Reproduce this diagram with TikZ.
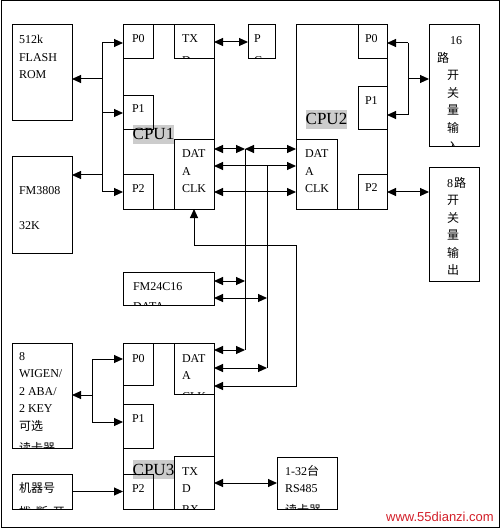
\documentclass[tikz,border=0pt]{standalone}
\usepackage{fontspec}
\setmainfont{Liberation Serif}
\newfontfamily\cjk{Noto Sans CJK SC}
\newfontfamily\wmfont{Liberation Sans}
\usetikzlibrary{arrows.meta}
\definecolor{wmred}{RGB}{210,30,40}
\newcommand\mkbox[5]{\node[box, minimum width=#4pt, minimum height=#5pt] (#1) at (#2,#3) {};}
\newcommand\mktext[5]{\begin{scope}\clip (#2.south west) rectangle (#2.north east);
  \node[txt] (#1) at (#3,#4-12) {\rule{0pt}{12pt}#5};\end{scope}}
\begin{document}
\begin{tikzpicture}[x=1pt,y=-1pt,
  box/.style={draw, line width=1pt, inner sep=0pt, outer sep=0pt, anchor=north west},
  txt/.style={anchor=north west, inner sep=0pt, outer sep=0pt, align=left, font=\fontsize{12}{17.5}\selectfont},
  lbl/.style={fill=black!20, inner sep=0pt, text height=15pt, text depth=4pt, anchor=base west, font=\fontsize{17}{17}\selectfont},
  wire/.style={line width=1pt},
  arr/.style={line width=1pt, -{Triangle[length=9pt,width=8pt]}},
  darr/.style={line width=1pt, {Triangle[length=9pt,width=8pt]}-{Triangle[length=9pt,width=8pt]}}]
\useasboundingbox (0,0) rectangle (501,529);
\node[box, minimum width=498pt, minimum height=526pt] (frame) at (1,1) {};

% ---- CPU1 ----
\mkbox{flash}{12}{25}{60}{96}
\mkbox{fmA}{12}{157}{60}{96}
\mkbox{cpu1}{123}{25}{91}{184}
\node[lbl] (lab1) at (132.5,140) {CPU1};
\mkbox{p0a}{123}{25}{30}{34}
\mkbox{tx1}{174}{25}{40}{34}
\mkbox{p1a}{123}{96}{30}{34}
\mkbox{d1}{174}{140}{40}{69}
\mkbox{p2a}{123}{175}{30}{34}
\mkbox{pc}{248}{25}{27}{34}

% ---- CPU2 ----
\mkbox{cpu2}{296}{25}{91}{184}
\node[lbl] (lab2) at (305.5,125) {CPU2};
\mkbox{p0b}{358}{25}{29}{34}
\mkbox{p1b}{358}{87}{29}{43}
\mkbox{d2}{296}{140}{41}{69}
\mkbox{p2b}{358}{175}{29}{34}
\mkbox{bsix}{429}{25}{50}{122}
\mkbox{beight}{429}{168}{50}{113}

% ---- FM24C16 ----
\mkbox{fmB}{123}{272}{91}{33}

% ---- CPU3 ----
\mkbox{cpu3}{123}{343}{91}{166}
\node[lbl] (lab3) at (132.5,475) {CPU3};
\mkbox{p0c}{123}{343}{30}{42}
\mkbox{d3}{174}{343}{40}{51}
\mkbox{p1c}{123}{404}{30}{44}
\node[box, fill=white, minimum width=40pt, minimum height=53pt] (tx3) at (174,456) {};
\mkbox{p2c}{123}{474}{30}{35}
\mkbox{wig}{12}{343}{60}{105}
\mkbox{jq}{12}{474}{60}{35}
\mkbox{rs}{277}{457}{60}{52}

% ---- texts ----
\mktext{tflash}{flash}{19}{44}{512k\\FLASH\\ROM}
\mktext{tfmA}{fmA}{19}{194}{FM3808\\[17.5pt]32K}
\mktext{tp0a}{p0a}{132}{43}{P0}
\mktext{ttx1}{tx1}{182}{43}{TX\\[4pt]D}
\mktext{tp1a}{p1a}{132}{113}{P1}
\mktext{td1}{d1}{182}{158}{DAT\\A\\CLK}
\mktext{tp2a}{p2a}{132}{193}{P2}
\mktext{tpc}{pc}{254}{43}{P\\[4pt]C}
\mktext{tp0b}{p0b}{365}{43}{P0}
\mktext{tp1b}{p1b}{365}{105}{P1}
\mktext{td2}{d2}{305}{158}{DAT\\A\\CLK}
\mktext{tp2b}{p2b}{365}{192}{P2}
\mktext{tsix}{bsix}{437}{45}{\hspace*{13pt}16\\{\cjk 路}\\\hspace*{10pt}{\cjk 开}\\\hspace*{10pt}{\cjk 关}\\\hspace*{10pt}{\cjk 量}\\\hspace*{10pt}{\cjk 输}\\[2pt]\hspace*{10pt}{\cjk 入}}
\mktext{teight}{beight}{447}{187}{8\hspace{1pt}{\cjk 路}\\{\cjk 开}\\{\cjk 关}\\{\cjk 量}\\{\cjk 输}\\{\cjk 出}}
\mktext{tfmB}{fmB}{133}{290}{FM24C16\\[3pt]DATA}
\mktext{tp0c}{p0c}{132}{362}{P0}
\mktext{td3}{d3}{182}{362}{DAT\\A\\[3pt]CLK}
\mktext{tp1c}{p1c}{132}{422}{P1}
\mktext{ttx3}{tx3}{182}{475}{TX\\D\\[3pt]RX}
\mktext{tp2c}{p2c}{132}{492}{P2}
\mktext{twig}{wig}{19}{360}{8\\WIGEN/\\2 ABA/\\2 KEY\\{\cjk 可选}\\[5pt]{\cjk 读卡器}}
\mktext{tjq}{jq}{19}{492}{{\cjk 机器号}\\[7pt]{\cjk 拨\hspace{5pt}断\hspace{5pt}开}}
\mktext{trs}{rs}{285}{475}{1-32{\cjk 台}\\RS485\\[4pt]{\cjk 读卡器}}

\node[anchor=base east, inner sep=0pt, text=wmred, font=\wmfont\fontsize{13}{13}\selectfont] (wm) at (494,521) {www.55dianzi.com};

% ---- CPU1 left bus ----
\coordinate (bt) at (102,43);
\coordinate (bp) at (102,113);
\coordinate (bb) at (102,192);
\coordinate (bf) at (102,79);
\coordinate (bm) at (102,175);
\draw[wire] (bt) -- (bb);
\draw[arr] (bt) -- (bt -| p0a.west);
\draw[arr] (bp) -- (bp -| p1a.west);
\draw[arr] (bb) -- (bb -| p2a.west);
\draw[arr] (bf) -- (bf -| flash.east);
\draw[arr] (bm) -- (bm -| fmA.east);
\draw[darr] (tx1.east) -- (pc.west);

% ---- CPU2 right bus ----
\coordinate (rt) at (408,43);
\coordinate (rb) at (408,115);
\coordinate (rm) at (408,79);
\draw[wire] (rt) -- (rb);
\draw[arr] (rt) -- (rt -| p0b.east);
\draw[arr] (rb) -- (rb -| p1b.east);
\draw[arr] (rm) -- (rm -| bsix.west);
\draw[darr] (p2b.east) -- (p2b.east -| beight.west);

% ---- shared DATA / CLK lines ----
\coordinate (ja) at (245,149);
\coordinate (jb) at (267,166);
\coordinate (jc) at (250,192);
\coordinate (ja2) at (245,350);
\coordinate (jb2) at (267,368);
\coordinate (fa) at (245,281);
\coordinate (fb) at (267,298);
\draw[wire] (ja) -- (ja2);
\draw[wire] (jb) -- (jb2);
\draw[darr] (ja -| d1.east) -- (ja);
\draw[darr] (ja) -- (ja -| d2.west);
\draw[darr] (jb -| d1.east) -- (jb -| d2.west);
\draw[darr] (jc -| d1.east) -- (jc -| d2.west);
\draw[darr] (fa -| fmB.east) -- (fa);
\draw[darr] (fb -| fmB.east) -- (fb);
\draw[darr] (ja2 -| d3.east) -- (ja2);
\draw[darr] (jb2 -| d3.east) -- (jb2);

% ---- CPU3 CLK loop to CPU1 ----
\coordinate (l1) at (194,245);
\coordinate (l2) at (296,245);
\coordinate (l3) at (296,386);
\draw[darr] (d1.south) -- (l1) -- (l2) -- (l3) -- (l3 -| d3.east);

% ---- CPU3 left side ----
\coordinate (wt) at (92,359);
\coordinate (wb) at (92,422);
\coordinate (wm2) at (92,395);
\draw[wire] (wt) -- (wb);
\draw[arr] (wt) -- (wt -| p0c.west);
\draw[arr] (wb) -- (wb -| p1c.west);
\draw[arr] (wm2) -- (wm2 -| wig.east);
\draw[arr] (jq.east) -- (p2c.west);
\draw[darr] (tx3.east |- rs.west) -- (rs.west);
\end{tikzpicture}
\end{document}
